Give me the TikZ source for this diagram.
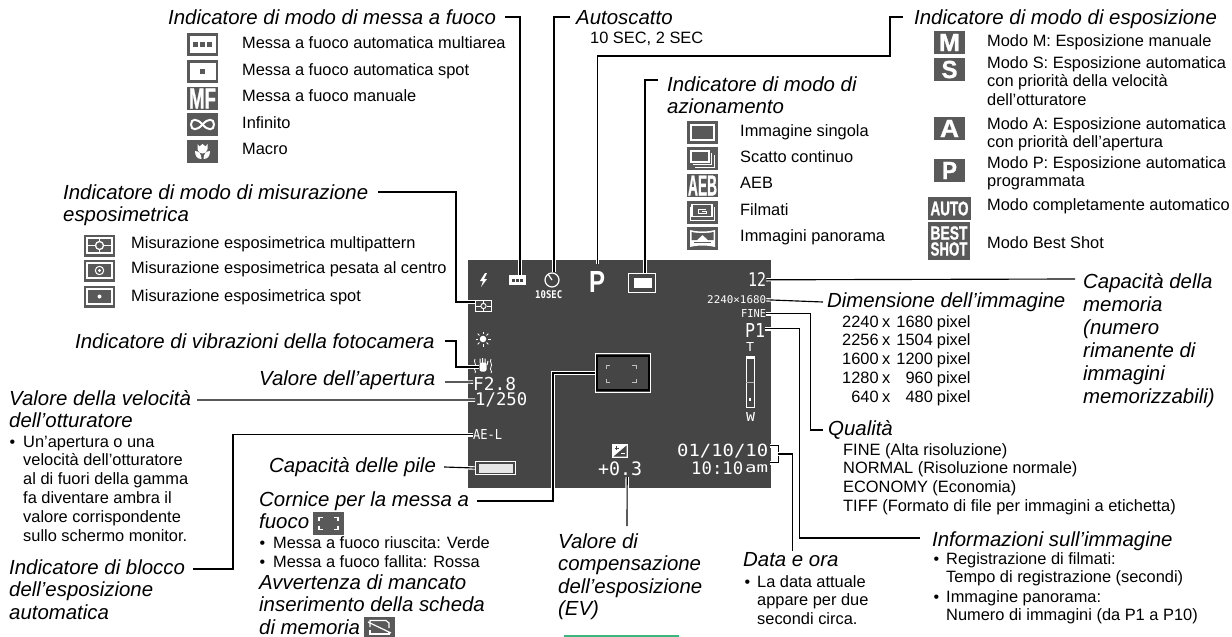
\documentclass[tikz,border=0pt]{standalone}
\usepackage{graphicx}
\usepackage{fontspec}
\setmainfont{Liberation Sans}
\newfontfamily\lcdfam{DejaVu Sans Mono}
\newfontfamily\fatfam[BoldFeatures={FakeBold=1.2}]{Liberation Sans}
\usetikzlibrary{calc}
\definecolor{scr}{HTML}{454545}
\definecolor{ico}{HTML}{595959}
\definecolor{grn}{HTML}{3FB47C}
\newcommand\MLx[1]{\begin{tabular}[t]{@{}l@{}}#1\end{tabular}}
\newcommand\PXr[2]{\makebox[36.5pt][r]{#1}\hspace{3.5pt}x\hspace{4.5pt}\makebox[38pt][r]{#2}\hspace{4pt}pixel}
\tikzset{
 ttl/.style={inner sep=0pt,anchor=base west,font=\fontsize{20.4}{22.6}\selectfont\itshape,text height=15pt,text depth=5pt},
 ttlm/.style={inner sep=0pt,anchor=base west,font=\fontsize{20.4}{22.6}\selectfont\itshape},
 bod/.style={inner sep=0pt,anchor=base west,font=\fontsize{16.4}{18.8}\selectfont},
 bul/.style={inner sep=0pt,anchor=base west,font=\fontsize{16}{16}\selectfont},
 lcd/.style={inner sep=0pt,anchor=south west,text=white},
 iconbox/.style={fill=ico,draw=none,inner sep=0pt,minimum width=31pt,minimum height=23pt,text=white},
 ln/.style={draw=black,line width=1.15pt,preaction={draw=white,line width=3.4pt}},
}
\newcommand\LCDn[6]{\node[lcd] (#1) at (#2,#3) {\resizebox*{#4pt}{#5pt}{\lcdfam\fontsize{20}{20}\selectfont #6}};}
\newcommand\LCDb[6]{\node[lcd] (#1) at (#2,#3) {\resizebox*{#4pt}{#5pt}{\lcdfam\bfseries\fontsize{20}{20}\selectfont #6}};}
\newcommand\fitw[3]{\resizebox*{#1pt}{#2pt}{\fatfam\bfseries\fontsize{20}{20}\selectfont #3}}
\begin{document}
\begin{tikzpicture}[x=1pt,y=-1pt]
\useasboundingbox (0,0) rectangle (1232,637);
\fill[white] (0,0) rectangle (1232,637);
\node[fill=scr,inner sep=0pt,minimum width=303pt,minimum height=228pt] (screen) at (619.5,374) {};
\fill[grn] (564,635) rectangle (679,637);

% --- AF mode list
\node[ttl] (tAF) at (168,24) {Indicatore di modo di messa a fuoco};
\foreach \n/\y/\t in {a/48/Messa a fuoco automatica multiarea,b/75/Messa a fuoco automatica spot,c/101.5/Messa a fuoco manuale,d/128/Infinito,e/154/Macro}{
 \node[bod] (af\n) at (242,\y) {\t};}
\node[iconbox] (ia) at (202.5,44.5) {};
\fill[white] (189.5,36) rectangle (215.5,53);
\foreach \d in {-7,0,7}{\fill[ico] (202.5+\d-2.2,42.2) rectangle (202.5+\d+2.2,46.8);}
\node[iconbox] (ib) at (202.5,71.5) {};
\fill[white] (189.5,63) rectangle (215.5,80);
\fill[ico] (200.3,69.2) rectangle (204.7,73.8);
\node[iconbox] (ic) at (202.5,98.5) {\fitw{27}{20}{MF}};
\node[iconbox] (id) at (202.5,124.5) {};
\draw[white,line width=2pt] (202.5,124.5) .. controls (197,118) and (191,118.5) .. (191,124.5) .. controls (191,130.5) and (197,131) .. (202.5,124.5) .. controls (208,118) and (214,118.5) .. (214,124.5) .. controls (214,130.5) and (208,131) .. (202.5,124.5);
\node[iconbox] (ie) at (202.5,151.5) {};
\fill[white] (197.5,144) -- (199.5,146.5) -- (202.5,144) -- (205.5,146.5) -- (207.5,144) -- (207.5,149) .. controls (207.5,152) and (205,153.5) .. (202.5,153.5) .. controls (200,153.5) and (197.5,152) .. (197.5,149) -- cycle;
\fill[white] (195,151) .. controls (199,151) and (201.5,154) .. (201.5,159) .. controls (197,159) and (195,156) .. (195,151) -- cycle;
\fill[white] (210,151) .. controls (206,151) and (203.5,154) .. (203.5,159) .. controls (208,159) and (210,156) .. (210,151) -- cycle;

% --- self timer
\node[ttl] (tAuto) at (576,24) {Autoscatto};
\node[bod] (auto1) at (590,43) {10 SEC, 2 SEC};

% --- drive mode
\node[ttlm] (tDrive) at (667,91) {\MLx{Indicatore di modo di\\azionamento}};
\foreach \n/\y/\t in {a/136/Immagine singola,b/162/Scatto continuo,c/188/AEB,d/215.5/Filmati,e/241.5/Immagini panorama}{
 \node[bod] (dr\n) at (740,\y) {\t};}
\node[iconbox] (ja) at (702.5,132.5) {};
\draw[white,line width=1.6pt] (691,125) rectangle (714,140);
\node[iconbox] (jb) at (702.5,158.5) {};
\draw[white,line width=1.6pt] (691,151) rectangle (709,162);
\draw[white,line width=1pt] (693,164.5) -- (711.5,164.5) -- (711.5,153);
\draw[white,line width=1pt] (695,167) -- (714,167) -- (714,155);
\node[iconbox] (jc) at (702.5,185.5) {\fitw{29}{20}{AEB}};
\node[iconbox] (jd) at (702.5,212.5) {};
\draw[white,line width=1.2pt] (692,204.5) rectangle (712,216.5);
\draw[white,line width=1pt] (690,207) -- (690,220) -- (714.5,220) -- (714.5,207);
\draw[white,line width=1pt] (706,209) -- (698,209) -- (698,213.5) -- (706,213.5) -- (706,211) -- (702,211);
\node[iconbox] (je) at (702.5,238.5) {};
\fill[white] (690,230) .. controls (698,232) and (707,232) .. (715,230) -- (715,247) .. controls (707,245) and (698,245) .. (690,247) -- cycle;
\fill[ico] (691.5,232) .. controls (698,233.5) and (707,233.5) .. (713.5,232) -- (713.5,240) -- (708,240) -- (702.5,235) -- (697,240) -- (691.5,240) -- cycle;
\fill[ico] (694,243) -- (711,243) -- (711,241.5) -- (694,241.5) -- cycle;

% --- exposure mode
\node[ttl] (tExp) at (914,24) {Indicatore di modo di esposizione};
\node[bod] (exa) at (987,46.7) {Modo M: Esposizione manuale};
\node[bod] (exb) at (987,68) {\MLx{Modo S: Esposizione automatica\\con priorit\`a della velocit\`a\\dell’otturatore}};
\node[bod] (exc) at (987,129) {\MLx{Modo A: Esposizione automatica\\con priorit\`a dell’apertura}};
\node[bod] (exd) at (987,168) {\MLx{Modo P: Esposizione automatica\\programmata}};
\node[bod] (exe) at (987,210) {Modo completamente automatico};
\node[bod] (exf) at (987,248) {Modo Best Shot};
\node[iconbox] (ka) at (949.5,42.5) {\fitw{21}{17}{M}};
\node[iconbox] (kb) at (949.5,69.5) {\fitw{16}{17.5}{S}};
\node[iconbox] (kc) at (949.5,128.5) {\fitw{19}{17}{A}};
\node[iconbox] (kd) at (949.5,170.5) {\fitw{15}{17}{P}};
\node[iconbox,minimum width=43pt] (ke) at (949.5,208.5) {\fitw{38}{14}{AUTO}};
\node[iconbox,minimum width=42pt,minimum height=38pt,align=center] (kf) at (949,241) {\fitw{37}{13.5}{BEST}\\[1.5pt]\fitw{37}{13.5}{SHOT}};

% --- metering
\node[ttlm] (tMet) at (63,199) {\MLx{Indicatore di modo di misurazione\\esposimetrica}};
\foreach \n/\y/\t in {a/248/Misurazione esposimetrica multipattern,b/273/Misurazione esposimetrica pesata al centro,c/301/Misurazione esposimetrica spot}{
 \node[bod] (me\n) at (131,\y) {\t};}
\node[iconbox,minimum width=31pt,minimum height=22pt] (ma) at (99.5,245.5) {};
\draw[white,line width=1.5pt] (87,238) rectangle (112,253);
\draw[white,line width=1.3pt] (87,245.5) -- (95,245.5) (104,245.5) -- (112,245.5) (99.5,238) -- (99.5,241) (99.5,250) -- (99.5,253);
\draw[white,line width=1.3pt] (99.5,245.5) circle (4);
\node[iconbox,minimum width=31pt,minimum height=22pt] (mb) at (99.5,270.5) {};
\draw[white,line width=1.5pt] (87,263) rectangle (112,278);
\draw[white,line width=1pt] (99.5,270.5) circle (4.2);
\fill[white] (99.5,270.5) circle (1.6);
\node[iconbox,minimum width=31pt,minimum height=22pt] (mc) at (99.5,296.5) {};
\draw[white,line width=1.5pt] (87,289) rectangle (112,304);
\fill[white] (99.5,296.5) circle (2);

% --- left column
\node[ttl] (tVib) at (75,348) {Indicatore di vibrazioni della fotocamera};
\node[ttl] (tApe) at (259,385) {Valore dell’apertura};
\node[ttlm] (tShu) at (9,405) {\MLx{Valore della velocit\`a\\dell’otturatore}};
\node[bul] (b1) at (9.5,447) {\textbullet};
\node[bod] (shu1) at (23,447) {\MLx{Un’apertura o una\\velocit\`a dell’otturatore\\al di fuori della gamma\\fa diventare ambra il\\valore corrispondente\\sullo schermo monitor.}};
\node[ttlm] (tAEL) at (9,574) {\MLx{Indicatore di blocco\\dell’esposizione\\automatica}};
\node[ttl] (tBat) at (269,472) {Capacit\`a delle pile};
\node[ttlm] (tCor) at (259,506) {\MLx{Cornice per la messa a\\fuoco}};
\node[iconbox] (iCor) at (328.5,523.5) {};
\draw[white,line width=1.3pt] (319,521) -- (319,517.5) -- (323,517.5) (338,521) -- (338,517.5) -- (334,517.5) (319,526) -- (319,529.5) -- (323,529.5) (338,526) -- (338,529.5) -- (334,529.5);
\node[bul] (b2) at (259.5,548) {\textbullet};
\node[bod] (cor1) at (273,548) {Messa a fuoco riuscita: Verde};
\node[bul] (b3) at (259.5,567) {\textbullet};
\node[bod] (cor2) at (273,567) {Messa a fuoco fallita: Rossa};
\node[ttlm] (tAvv) at (259,589) {\MLx{Avvertenza di mancato\\inserimento della scheda\\di memoria}};
\node[iconbox,minimum height=20pt] (iCard) at (379.5,627) {};
\draw[white,line width=1.2pt] (370,627) -- (370,620.5) -- (386,620.5) -- (389,623) -- (389,628);
\draw[white,line width=1.2pt] (368,622) -- (391,633);
\draw[white,line width=1.2pt] (370,630) -- (370,634) -- (389,634) -- (389,632);

% --- right side
\node[inner sep=0pt,anchor=base west,font=\fontsize{20.4}{23}\selectfont\itshape] (tCap) at (1083,288) {\MLx{Capacit\`a della\\memoria\\(numero\\rimanente di\\immagini\\memorizzabili)}};
\node[ttl] (tDim) at (827,307) {Dimensione dell’immagine};
\node[bod] (dim1) at (842,327) {\MLx{\PXr{2240}{1680}\\\PXr{2256}{1504}\\\PXr{1600}{1200}\\\PXr{1280}{960}\\\PXr{640}{480}}};
\node[ttl] (tQua) at (828,435) {Qualit\`a};
\node[bod] (qua1) at (843,455) {\MLx{FINE (Alta risoluzione)\\NORMAL (Risoluzione normale)\\ECONOMY (Economia)\\TIFF (Formato di file per immagini a etichetta)}};
\node[ttl] (tInf) at (932,546) {Informazioni sull’immagine};
\node[bul] (b4) at (933.5,564) {\textbullet};
\node[bod] (inf1) at (946,564) {\MLx{Registrazione di filmati:\\Tempo di registrazione (secondi)}};
\node[bul] (b5) at (933.5,602) {\textbullet};
\node[bod] (inf2) at (946,602) {\MLx{Immagine panorama:\\Numero di immagini (da P1 a P10)}};
\node[ttl] (tDat) at (743,566) {Data e ora};
\node[bul] (b6) at (744.5,587) {\textbullet};
\node[bod] (dat1) at (757,587) {\MLx{La data attuale\\appare per due\\secondi circa.}};
\node[ttlm] (tVal) at (558,548) {\MLx{Valore di\\compensazione\\dell’esposizione\\(EV)}};

% --- screen content
\fill[white] (485,273) -- (480,281) -- (483,281) -- (481,287) -- (487,279) -- (484,279) -- (487,273) -- cycle;
\node[fill=white,inner sep=0pt,minimum width=17pt,minimum height=10pt] (sAF) at (517.5,280) {};
\foreach \d in {-4,0,4}{\fill[scr] (517.5+\d-1.1,279) rectangle (517.5+\d+1.1,281.5);}
\node[draw=white,line width=1.2pt,circle,inner sep=0pt,minimum size=14pt] (sTim) at (552,280) {};
\draw[white,line width=1.2pt] (548,274) -- (552,280);
\LCDb{sSec}{535}{299}{27}{8}{10SEC}
\node[lcd] (sP) at (589,293) {\resizebox*{16pt}{21pt}{\bfseries\fontsize{20}{20}\selectfont P}};
\node[draw=white,line width=1.4pt,fill=scr,inner sep=0pt,minimum width=27pt,minimum height=19pt] (sDrv) at (642,283) {};
\fill[white] (633.5,278) rectangle (651.5,288);
\node[draw=white,line width=1pt,inner sep=0pt,minimum width=15.5pt,minimum height=10.5pt] (sMet) at (483.5,306) {};
\draw[white,line width=.9pt] (476,306) -- (480.5,306) (486.5,306) -- (491,306) (483.5,301) -- (483.5,303) (483.5,309) -- (483.5,311);
\draw[white,line width=.9pt] (483.5,306) circle (2.6);
\node[circle,fill=white,inner sep=0pt,minimum size=6.5pt] (sSun) at (483,339) {};
\foreach \a in {0,45,...,315}{\draw[white,line width=1pt] ($(sSun)+(\a:5)$) -- ($(sSun)+(\a:7.5)$);}
\node[fill=white,rounded corners=2pt,inner sep=0pt,minimum width=7pt,minimum height=9pt] (sHand) at (483,367) {};
\draw[white,line width=1pt] (480,363) -- (480,358.5) (482.5,363) -- (482.5,358) (485,363) -- (485,358.5) (487,365) -- (488,361);
\draw[white,line width=.8pt] (475,359) .. controls (473,362) and (477,364) .. (475,367) .. controls (473,370) and (477,371) .. (475,373);
\draw[white,line width=.8pt] (491,359) .. controls (489,362) and (493,364) .. (491,367) .. controls (489,370) and (493,371) .. (491,373);
\LCDn{sF}{473}{391}{43}{13.5}{F2.8}
\LCDn{sSh}{475}{407.5}{52}{14.5}{1/250}
\LCDn{sAE}{473}{440}{29}{10}{AE-L}
\node[draw=white,line width=1.2pt,fill=scr,inner sep=0pt,minimum width=40pt,minimum height=13pt] (sBat) at (495.5,468) {};
\fill[white!90!black] (478.5,463.5) rectangle (512.5,472.5);
\node[draw=white,line width=1.1pt,inner sep=0pt,minimum width=55pt,minimum height=39pt] (sFrame) at (623,373) {};
\draw[black,line width=1.1pt] (597,356) rectangle (649,390);
\draw[white!75!black,line width=.9pt] (606,369) -- (606,365.5) -- (610,365.5) (636,369) -- (636,365.5) -- (632,365.5) (606,379) -- (606,382.5) -- (610,382.5) (636,379) -- (636,382.5) -- (632,382.5);
\node[fill=white,inner sep=0pt,minimum width=16pt,minimum height=14pt] (sEVi) at (620,451) {};
\fill[scr] (613.5,456.5) -- (626.5,445.5) -- (626.5,456.5) -- cycle;
\draw[white,line width=.9pt] (621,453.5) -- (625,453.5);
\draw[scr,line width=.9pt] (614.5,448) -- (618.5,448) (616.5,446) -- (616.5,450);
\LCDn{sEV}{598}{476}{44}{14}{+0.3}
\LCDn{sCap}{748}{287}{18}{14}{12}
\LCDn{sDim}{707}{304}{59}{8}{2240×1680}
\LCDn{sFin}{741}{318}{25}{8}{FINE}
\LCDn{sQ}{745}{338}{20}{14}{P1}
\LCDn{sT}{746}{352}{8}{9}{T}
\node[draw=white,line width=1pt,inner sep=0pt,minimum width=8pt,minimum height=51pt] (sBar) at (750,381.5) {};
\fill[white] (746,356) rectangle (754,358.5);
\draw[white!70!black,line width=.6pt] (746,382) -- (754,382);
\fill[white] (748.8,398) rectangle (751.2,400.5);
\LCDn{sW}{746}{422}{9}{9}{W}
\LCDn{sDate}{677}{458}{91}{14}{01/10/10}
\LCDn{sTime}{691}{475}{52}{13}{10:10}
\LCDn{sAm}{745}{473}{23}{8}{am}

% --- named free ends of connectors
\coordinate (cDrv) at (658,80);
\coordinate (cMet) at (378,192);
\coordinate (cVib) at (445,341);
\coordinate (cApe) at (445,382);
\coordinate (cShu) at (197,400);
\coordinate (cAEL) at (193,569);
\coordinate (cCor) at (477,501);
\coordinate (cCap) at (1075,279);
\coordinate (cVal) at (627,526);
\coordinate (cBk) at (778,454);

% --- connectors
\draw[ln] ([xshift=9pt,yshift=2pt]tAF.east) -| ([xshift=2.5pt]sAF.north);
\draw[ln] ([xshift=-6pt,yshift=2pt]tAuto.west) -| ([xshift=2pt]sTim.north);
\draw[ln] ([xshift=-11pt,yshift=2pt]tExp.west) -- ++(-13,0) -- ++(0,39) -| ([yshift=8pt]sP.north);
\draw[ln] (cDrv) -- ++(-13,0) -- ([xshift=3pt]sDrv.north);
\draw[ln] (cMet) -- ++(78,0) |- ([yshift=4pt]sMet.west);
\draw[ln] (cVib) -- ++(11,0) |- (sHand.west);
\draw[ln] (cApe) -- ([yshift=2pt]sF.west);
\draw[ln] (cShu) -- (sSh.west);
\draw[ln] (cAEL) -- ++(40,0) |- (sAE.west);
\draw[ln] ([xshift=8pt]tBat.east) -- (sBat.west);
\draw[ln] (cCor) -- ++(76,0) |- (sFrame.west);
\draw[ln] (cCap) -- (sCap.east);
\draw[ln] ([xshift=-4pt]tDim.west) -- (sDim.east);
\draw[ln] (sFin.east) -- ++(44,0) |- ([xshift=-5pt]tQua.west);
\draw[ln] ([yshift=2pt]sQ.east) -- ++(34,0) |- ([xshift=-12pt,yshift=3pt]tInf.west);
\draw[ln] (cVal) -- ([xshift=7pt,yshift=-1pt]sEV.south);
\draw[ln] ([xshift=2pt,yshift=5pt]sDate.east) -- ++(8,0) |- ([xshift=2pt,yshift=6pt]sAm.east);
\draw[ln] (cBk) -| ([xshift=2pt]tDat.north);
\end{tikzpicture}
\end{document}
